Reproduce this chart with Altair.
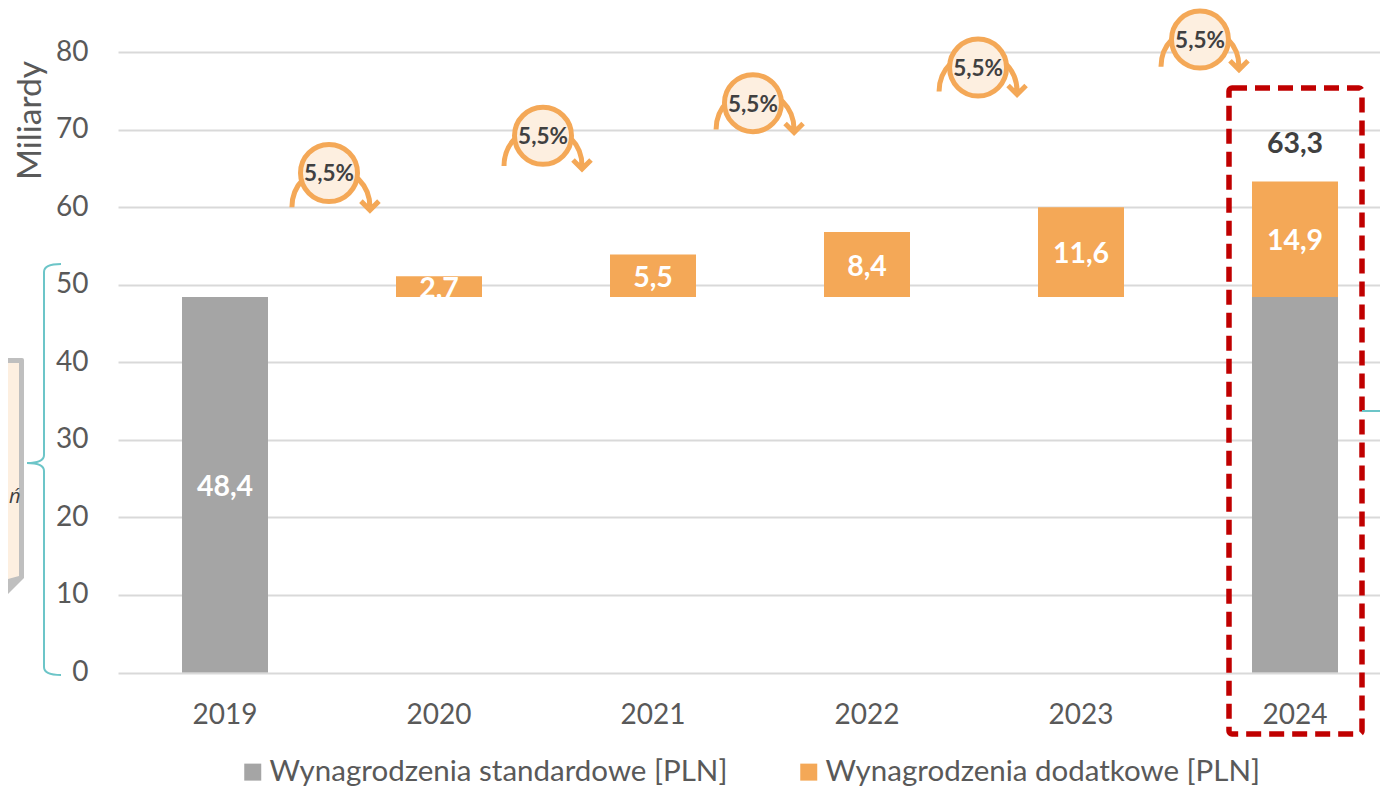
import altair as alt
import pandas as pd

years = ["2019", "2020", "2021", "2022", "2023", "2024"]
standard = [48.4, 0, 0, 0, 0, 48.4]
extra = [0, 2.7, 5.5, 8.4, 11.6, 14.9]
total_2024 = 63.3
S1 = "Wynagrodzenia standardowe [PLN]"
S2 = "Wynagrodzenia dodatkowe [PLN]"
growth = "5,5%"
bubble_x = [2019.486, 2020.486, 2021.467, 2022.519, 2023.556]
bubble_y = [64.4, 69.2, 73.4, 78.0, 81.6]
arc_x = [2019.495, 2020.486, 2021.477, 2022.519, 2023.556]
arc_y = [60.0, 65.3, 70.0, 74.9, 78.1]

FONT = "Lato"
GREY = "#A5A5A5"
ORANGE = "#F4A857"
TEAL = "#6CC5C8"
RED = "#C00000"
TXT = "#595959"
DARK = "#404040"

rows = []
for y, s, e in zip(years, standard, extra):
    if s:
        rows.append(dict(year=y, series=S1, start=0, end=s, label=f"{s:.1f}".replace(".", ",")))
    if e:
        rows.append(dict(year=y, series=S2, start=48.4, end=48.4 + e, label=f"{e:.1f}".replace(".", ",")))
df = pd.DataFrame(rows)
df["mid"] = (df["start"] + df["end"]) / 2
labels = df[~((df.year == "2024") & (df.series == S1))]

xband = alt.Scale(domain=years, range=[0, 1284], paddingInner=0.6, paddingOuter=0.3)
xnum = alt.Scale(domain=[2018.5, 2024.5], range=[0, 1284])
yscale = alt.Scale(domain=[0, 80], nice=False, clamp=False)

bars = alt.Chart(df).mark_bar(size=86).encode(
    x=alt.X("year:N", scale=xband, title=None, sort=years,
            axis=alt.Axis(labelAngle=0, labelFontSize=28, labelFont=FONT, labelColor=TXT,
                          ticks=False, domain=False, labelPadding=29, grid=False)),
    y=alt.Y("start:Q", scale=yscale, title="Miliardy",
            axis=alt.Axis(values=list(range(0, 90, 10)), labelFontSize=28, labelFont=FONT, labelColor=TXT,
                          ticks=False, domain=False, labelPadding=30, grid=True, gridColor="#D9D9D9",
                          gridWidth=2, titleFont=FONT, titleFontSize=33.5, titleFontWeight="normal",
                          titleColor=TXT, titleX=-71, titleY=68, titleAngle=-90)),
    y2="end:Q",
    color=alt.Color("series:N", scale=alt.Scale(domain=[S1, S2], range=[GREY, ORANGE]), title=None,
                    legend=alt.Legend(orient="none", legendX=120, legendY=705, direction="horizontal",
                                      columns=2, columnPadding=66, labelOffset=2, symbolType="square",
                                      symbolSize=289, symbolStrokeWidth=0, symbolOpacity=1,
                                      labelFont=FONT, labelFontSize=29.5, labelColor=TXT, labelLimit=600)),
)

bar_text = alt.Chart(labels).mark_text(font=FONT, fontSize=28.5, fontWeight="bold", color="white", dy=2).encode(
    x=alt.X("year:N", scale=xband, axis=None, sort=years),
    y=alt.Y("mid:Q", scale=yscale),
    text="label:N",
)

total = alt.Chart(pd.DataFrame({"year": ["2024"], "v": [total_2024], "t": ["63,3"]})).mark_text(
    font=FONT, fontSize=28.5, fontWeight="bold", color=DARK, dy=-38).encode(
    x=alt.X("year:N", scale=xband, axis=None, sort=years),
    y=alt.Y("v:Q", scale=yscale),
    text="t:N",
)

arc_path = "M-39 0 C-39 -22 -22 -39 0 -39 C22 -39 39 -22 39 0 M30 -6 L39 3 L48 -6"
arrows = alt.Chart(pd.DataFrame({"x": arc_x, "y": arc_y})).mark_point(
    shape=arc_path, size=4, filled=False, stroke=ORANGE, strokeWidth=5, opacity=1).encode(
    x=alt.X("x:Q", scale=xnum, axis=None),
    y=alt.Y("y:Q", scale=yscale),
)
bdf = pd.DataFrame({"x": bubble_x, "y": bubble_y, "t": [growth] * 5})
circles = alt.Chart(bdf).mark_point(
    shape="circle", size=3249, filled=True, fill="#FDEFE0", stroke=ORANGE, strokeWidth=5, opacity=1).encode(
    x=alt.X("x:Q", scale=xnum, axis=None),
    y=alt.Y("y:Q", scale=yscale),
)
circle_text = alt.Chart(bdf).mark_text(font=FONT, fontSize=22.5, fontWeight="bold", color=DARK, dy=1.5).encode(
    x=alt.X("x:Q", scale=xnum, axis=None),
    y=alt.Y("y:Q", scale=yscale),
    text="t:N",
)

# annotation overlays: the anchor is the page origin, so paths read in page pixels
anchor = dict(x=alt.value(-118), y=alt.value(-52))
def overlay(path, **kw):
    return alt.Chart(pd.DataFrame({"a": [0]})).mark_point(shape=path, size=4, opacity=1, **kw).encode(**anchor)

box = alt.Chart(pd.DataFrame({"a": [0]})).mark_rect(
    fill="transparent", stroke=RED, strokeWidth=5.5, strokeDash=[15, 8], cornerRadius=3).encode(
    x=alt.value(1111), x2=alt.value(1244), y=alt.value(36), y2=alt.value(682))

brace = overlay("M61 264 Q44 264 44 272 L44 455 Q44 463 27 463 Q44 463 44 471 L44 667 Q44 675 61 675",
                filled=False, stroke=TEAL, strokeWidth=2)
right_line = overlay("M1362 411 L1390 411", filled=False, stroke=TEAL, strokeWidth=2)
note_border = overlay("M0 358 L22 358 Q24 358 24 360 L24 578 L0 602 Z", filled=True, fill="#BFBFBF", strokeWidth=0)
note_fill = overlay("M0 363 L19 363 L19 576 L0 581 Z", filled=True, fill="#FDEFE0", strokeWidth=0)
note_text = alt.Chart(pd.DataFrame({"t": ["ń"]})).mark_text(
    font="Open Sans", fontSize=20, fontStyle="italic", color=DARK, align="left", baseline="middle").encode(
    x=alt.value(-109), y=alt.value(445), text="t:N")

chart = alt.layer(
    bars, bar_text, total, arrows, circles, circle_text, box, brace, right_line,
    note_border, note_fill, note_text,
).resolve_scale(x="independent").properties(
    width=1262, height=620.5, background="white",
    padding={"left": 110, "top": 44, "right": 0, "bottom": 115},
    autosize=alt.AutoSizeParams(type="none"),
).configure_view(stroke=None)

chart.save("out.html", embed_options={"renderer": "svg", "actions": False})
